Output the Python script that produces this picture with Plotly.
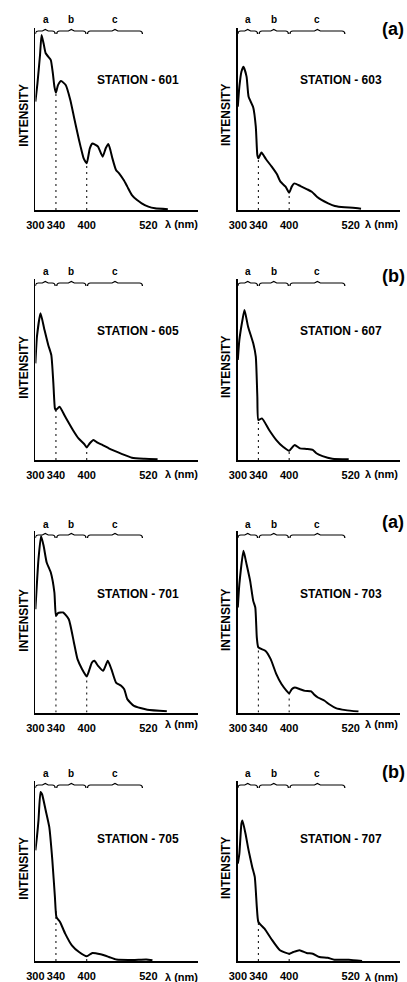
import numpy as np
import plotly.graph_objects as go

W, H = 407, 982

# ---------------- data ----------------
stations = ["601", "603", "605", "607", "701", "703", "705", "707"]

wl_601 = [300, 304, 309, 312, 316, 320, 325, 330, 334, 337, 340, 344, 350, 359, 368, 375, 382, 388, 394, 400,
          406, 411, 417, 422, 431, 437, 442, 446, 450, 457, 463, 472, 479, 488, 498, 507, 520, 533, 558]
int_601 = [58, 67.7, 82.9, 93.6, 89, 83.8, 82, 80.2, 73, 66, 62.7, 66.8, 69, 66.8, 58.8, 49.9, 41, 33.9, 27.6, 25,
           33, 35.6, 34.8, 33.9, 28.5, 33, 35.3, 32.1, 27.6, 21.4, 19.6, 16, 12.5, 8, 5.3, 3.6, 1.8, 0.9, 0.4]

wl_603 = [300, 303, 307, 311, 317, 321, 330, 335, 338, 340, 346, 355, 366, 376, 383, 393, 400, 405, 410, 422,
          435, 444, 454, 463, 476, 489, 508, 524, 540]
int_603 = [54.4, 64.9, 72.8, 75.4, 70.2, 59.6, 54, 43.9, 28.9, 27.2, 30.2, 26.7, 22.8, 18.9, 14.9, 12.3, 9.1, 12.3, 14, 12.6,
           10.9, 9.6, 7, 5.3, 3.5, 2.1, 1.4, 1.2, 0.7]

wl_605 = [300, 303, 310, 317, 325, 331, 335, 338, 340, 347, 358, 373, 384, 395, 400, 406, 413, 421, 431, 443,
          453, 469, 488, 513, 538]
int_605 = [53.7, 68.5, 81.5, 73.1, 63.9, 58.3, 42.6, 28.7, 27.8, 29.6, 24.1, 16.7, 12, 8.9, 7, 9.3, 11.1, 9.6, 8.3, 6.5,
           5.2, 3.3, 1.3, 0.7, 0.4]

wl_607 = [300, 303, 309, 313, 320, 330, 335, 338, 340, 347, 361, 375, 388, 400, 407, 411, 421, 434, 446, 453,
          465, 484, 516]
int_607 = [53.6, 64.3, 75, 80.4, 71.4, 62.5, 55.4, 33.9, 21.4, 22.3, 16.1, 10.7, 7.1, 5, 7.1, 8, 6.25, 5.9, 5.4, 3.6,
           2.1, 0.7, 0.4]

wl_701 = [300, 306, 311, 316, 322, 330, 337, 340, 344, 354, 365, 375, 382, 391, 400, 410, 415, 422, 432, 441,
          448, 457, 467, 473, 479, 492, 518, 556]
int_701 = [57.9, 86, 99, 93.5, 84.1, 78.5, 67.3, 54.2, 55.7, 56.1, 52.3, 39.3, 29.9, 24.3, 20.2, 28, 29, 26.2, 23.4, 29,
           24.3, 16.8, 15, 13.1, 7.5, 3.7, 1.5, 0.7]

wl_703 = [300, 303, 311, 317, 324, 330, 334, 337, 340, 354, 364, 375, 385, 395, 400, 405, 411, 421, 431, 443,
          448, 456, 469, 478, 491, 510, 535]
int_703 = [57.3, 70, 88.2, 80.9, 71.8, 60.9, 57.3, 40.9, 35.5, 33.6, 29.1, 20.9, 15.5, 11.8, 10.4, 12.7, 13.6, 12.7, 11.8, 11.5,
           10, 8.2, 6.4, 4.5, 2.4, 1.3, 0.5]

wl_705 = [300, 303, 306, 310, 313, 320, 327, 333, 338, 341, 348, 358, 371, 385, 400, 411, 427, 443, 458, 490,
          516, 528]
int_705 = [63, 70.6, 80, 96.2, 94.9, 85.8, 76.3, 57.3, 36.4, 25, 22.2, 15.6, 8.9, 5.1, 2.7, 4.6, 3.8, 2.3, 0.8, 0.6,
           0.9, 0.4]

wl_707 = [300, 303, 307, 309, 315, 321, 328, 333, 337, 340, 352, 365, 382, 400, 408, 420, 434, 446, 459, 475,
          488, 516, 542]
int_707 = [53.4, 58.9, 75.3, 77.1, 69.8, 60.7, 51.6, 46.1, 29.6, 21.4, 17.7, 12.2, 5.9, 4.0, 4.9, 5.9, 4.4, 4.0, 2.2, 1.8,
           0.7, 0.7, 0.0]

wavelengths = [wl_601, wl_603, wl_605, wl_607, wl_701, wl_703, wl_705, wl_707]
intensities = [int_601, int_603, int_605, int_607, int_701, int_703, int_705, int_707]

tick_vals = [300, 340, 400, 520]
tick_text = ["300", "340", "400", "520"]
dash_marks = [340, 400]
region_labels = ["a", "b", "c"]
region_bounds = [(300, 340), (340, 400), (400, 510)]
group_labels = ["(a)", "(b)", "(a)", "(b)"]

# ---------------- layout geometry (pixels) ----------------
PX_PER_NM = 0.525
col_x = [(27, 193), (234, 400)]
row_base = [210, 460, 712.5, 961]
row_top = [28, 279, 531, 781]
row_bracket = [31, 283, 535, 785]
row_abc = [20, 272, 524, 773]
row_station = [80, 331, 594, 839]
row_intensity = [115, 367, 620, 868]
row_lambda = [224, 474, 724, 977]
row_group = [29, 276, 522, 772]
unit_px = [1.87, 1.90, 1.80, 1.867, 1.783, 1.833, 1.757, 1.823]
station_cx = [132, 340]
intensity_x = [15, 222]
lambda_cx = [176, 381]

FONT = "Liberation Sans, Arial, sans-serif"
x_max = 300 + (col_x[0][1] - col_x[0][0]) / PX_PER_NM

fig = go.Figure()
annotations = []
shapes = []
layout_axes = {}

for i, st in enumerate(stations):
    r, c = divmod(i, 2)
    sfx = "" if i == 0 else str(i + 1)
    xa, ya = "x" + sfx, "y" + sfx
    base, top = row_base[r], row_top[r]
    up = unit_px[i]
    y_max = (base - top) / up

    wl = np.array(wavelengths[i], dtype=float)
    it = np.array(intensities[i], dtype=float)

    # spectrum
    fig.add_trace(go.Scatter(x=wl, y=it, mode="lines", xaxis=xa, yaxis=ya,
                             line=dict(color="black", width=2, shape="spline", smoothing=0.5),
                             showlegend=False, hoverinfo="skip"))
    # dashed region separators
    for d in dash_marks:
        yv = float(np.interp(d, wl, it))
        fig.add_trace(go.Scatter(x=[d, d], y=[0, yv], mode="lines", xaxis=xa, yaxis=ya,
                                 line=dict(color="black", width=1, dash="2px,4px"),
                                 showlegend=False, hoverinfo="skip"))

    # brackets (top braces)
    yb = (base - row_bracket[r]) / up
    dy = 3.0 / up
    dy2 = 1.5 / up
    ex = 3.0 / PX_PER_NM
    for k, (a0, a1) in enumerate(region_bounds):
        x0 = a0 + (0 if k == 0 else 1.5)
        x1 = a1 - 1.5
        xm = (x0 + x1) / 2
        path = (f"M {x0},{yb - dy} Q {x0},{yb} {x0 + ex},{yb} L {xm - ex},{yb} "
                f"L {xm},{yb + dy2} L {xm + ex},{yb} L {x1 - ex},{yb} Q {x1},{yb} {x1},{yb - dy}")
        shapes.append(dict(type="path", path=path, xref=xa, yref=ya,
                           line=dict(color="black", width=1.2)))
        annotations.append(dict(text=region_labels[k], x=(a0 + a1) / 2 if k < 2 else 455,
                                xref=xa, y=(H - row_abc[r]) / H, yref="paper",
                                showarrow=False, xanchor="center", yanchor="middle",
                                font=dict(family=FONT, size=10, color="black", weight="bold")))

    layout_axes["xaxis" + sfx] = dict(
        domain=[col_x[c][0] / W, col_x[c][1] / W], anchor=ya, range=[300, x_max],
        showline=True, linecolor="black", linewidth=2, showgrid=False, zeroline=False,
        tickvals=tick_vals, ticktext=tick_text, tickangle=0, ticks="outside", ticklen=4,
        tickcolor="rgba(0,0,0,0)",
        tickfont=dict(family=FONT, size=11, color="black", weight="bold"), fixedrange=True)
    layout_axes["yaxis" + sfx] = dict(
        domain=[(H - base) / H, (H - top) / H], anchor=xa, range=[0, y_max],
        showline=True, linecolor="black", linewidth=1.5, showgrid=False, zeroline=False,
        showticklabels=False, ticks="", fixedrange=True)

    annotations.append(dict(text="STATION - " + st, x=station_cx[c] / W, y=(H - row_station[r]) / H,
                            xref="paper", yref="paper", showarrow=False, xanchor="center", yanchor="middle",
                            font=dict(family=FONT, size=12, color="black", weight="bold")))
    annotations.append(dict(text="INTENSITY", x=intensity_x[c] / W, y=(H - row_intensity[r]) / H,
                            xref="paper", yref="paper", showarrow=False, textangle=-90,
                            xanchor="center", yanchor="middle",
                            font=dict(family=FONT, size=12, color="black", weight="bold")))
    annotations.append(dict(text="λ (nm)", x=lambda_cx[c] / W, y=(H - row_lambda[r]) / H,
                            xref="paper", yref="paper", showarrow=False, xanchor="center", yanchor="middle",
                            font=dict(family=FONT, size=11, color="black", weight="bold")))

for r, g in enumerate(group_labels):
    annotations.append(dict(text=g, x=393 / W, y=(H - row_group[r]) / H, xref="paper", yref="paper",
                            showarrow=False, xanchor="center", yanchor="middle",
                            font=dict(family=FONT, size=18, color="black", weight="bold")))

fig.update_layout(width=W, height=H, margin=dict(l=0, r=0, t=0, b=0),
                  paper_bgcolor="white", plot_bgcolor="white",
                  annotations=annotations, shapes=shapes, **layout_axes)

fig.write_html("out.html",
               config={"displayModeBar": False, "staticPlot": True},
               post_script="document.body.style.margin='0';document.body.style.padding='0';"
                           "document.documentElement.style.overflow='hidden';")
